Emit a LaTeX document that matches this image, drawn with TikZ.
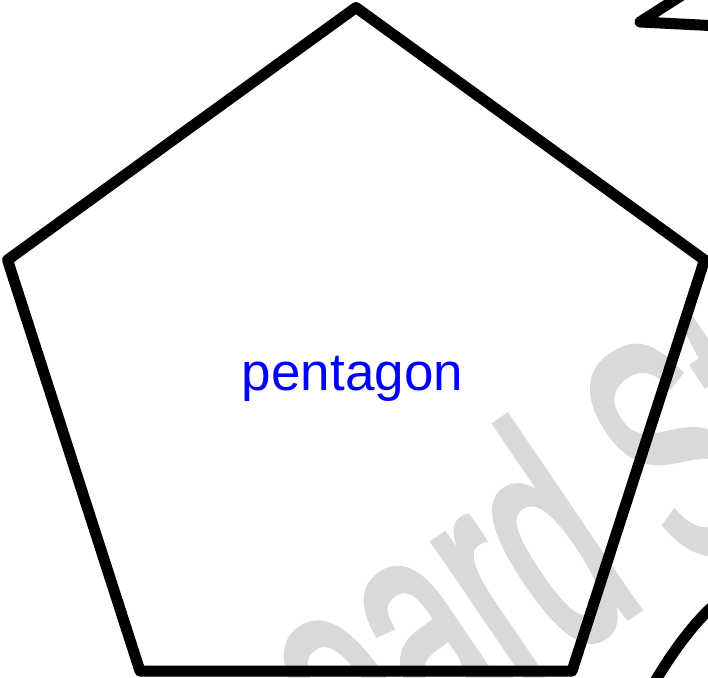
\documentclass[tikz,border=0pt]{standalone}
\usepackage{graphicx}
\usepackage{fontspec}
\setmainfont{Liberation Sans}
\newfontfamily\wmfont[FakeBold=2.5]{Liberation Sans}
\definecolor{wmgray}{RGB}{217,217,217}
\definecolor{lblblue}{RGB}{0,0,255}
\tikzset{
  shapeline/.style={draw=black, line width=11pt, line join=round},
  watermark/.style={text=wmgray, inner sep=0pt, rotate=34.2, font=\wmfont\fontsize{320}{320}\selectfont},
  shapelabel/.style={text=lblblue, inner sep=0pt, font=\fontsize{53}{53}\selectfont}
}
\begin{document}
\begin{tikzpicture}[x=1pt,y=-1pt]
\useasboundingbox (0,0) rectangle (708,677);
\clip (0,0) rectangle (708,677);
\node[watermark, anchor=base west] (wm) at (357,800) {\scalebox{0.55}[1]{oard St}};
\coordinate (p1) at (356,7.5);
\coordinate (p2) at (704.5,260);
\coordinate (p3) at (572,671);
\coordinate (p4) at (140,671);
\coordinate (p5) at (7.5,260);
\draw[shapeline] (p1) -- (p2) -- (p3) -- (p4) -- (p5) -- cycle;
\node[shapelabel, anchor=base] (lbl) at (352.5,390) {pentagon};
\coordinate (s1) at (690,-10);
\coordinate (s2) at (640,22);
\coordinate (s3) at (720,26);
\draw[shapeline] (s1) -- (s2) -- (s3);
\coordinate (c1) at (650,690);
\coordinate (c2) at (720,600);
\draw[shapeline] (c1) .. controls (670,655) and (695,620) .. (c2);
\end{tikzpicture}
\end{document}
